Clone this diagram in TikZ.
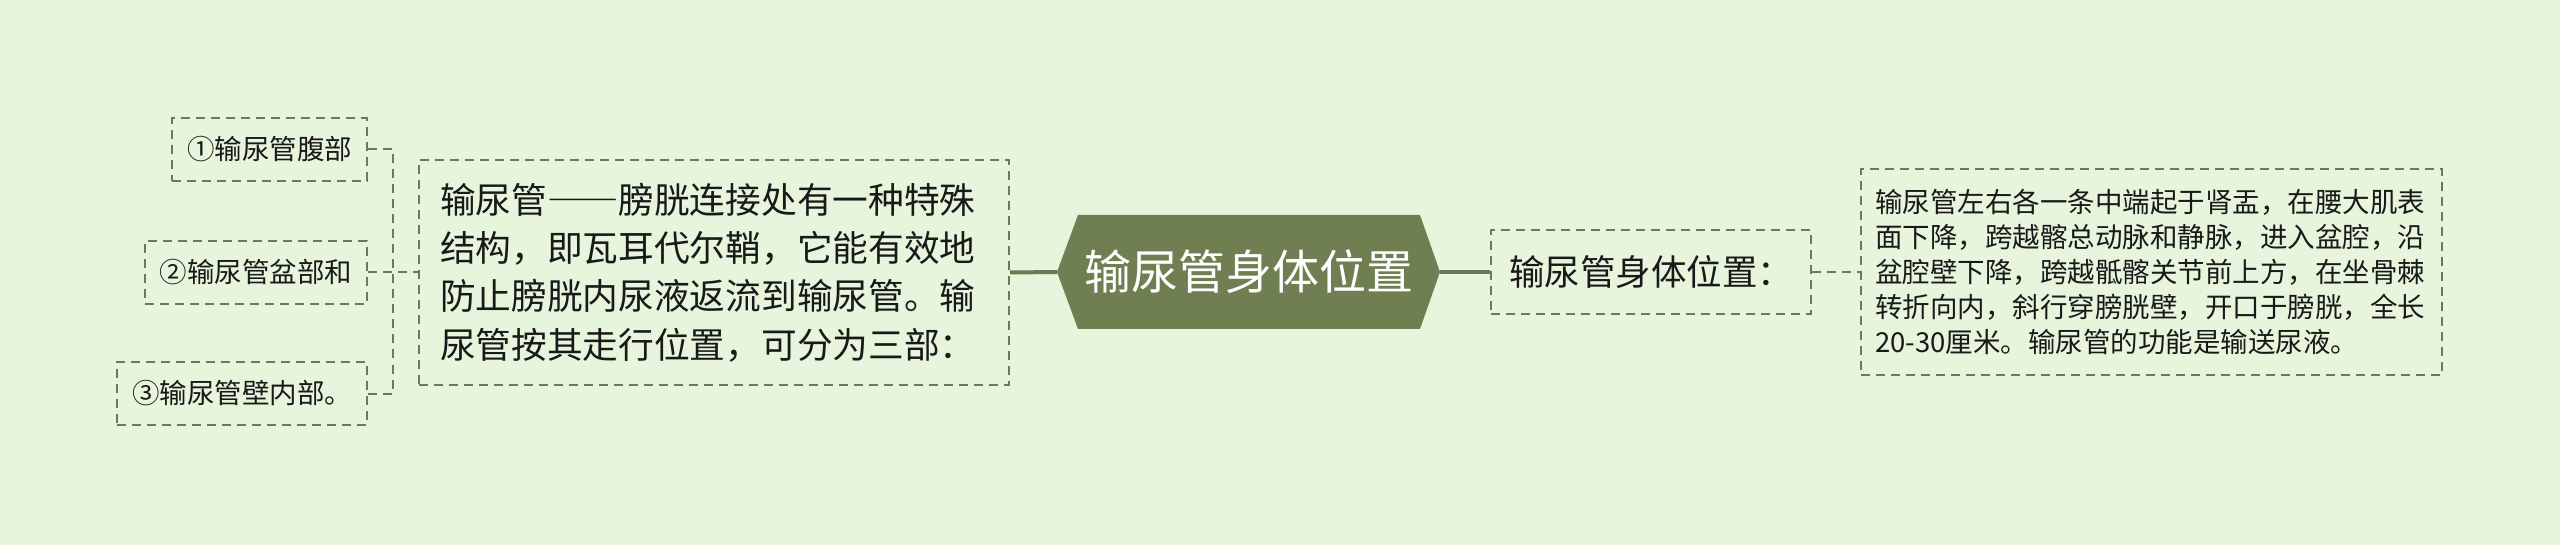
\documentclass[tikz,border=0pt]{standalone}
\usepackage{fontspec}
\newfontfamily\cjk{Noto Sans CJK SC}
\definecolor{bgc}{RGB}{231,245,220}
\definecolor{linec}{RGB}{107,122,82}
\definecolor{rootc}{RGB}{111,127,82}
\definecolor{txtc}{RGB}{25,25,25}
\tikzset{
  box/.style={draw=linec, line width=2pt, dash pattern=on 9pt off 6pt, text=txtc, inner ysep=0pt, align=left},
  leaf/.style={box, font=\cjk\fontsize{27.5}{35}\selectfont, inner xsep=15pt, minimum height=63pt},
  dconn/.style={draw=linec, line width=2pt, dash pattern=on 9pt off 6pt},
  sconn/.style={draw=linec, line width=4pt},
  rootnode/.style={minimum width=383pt, minimum height=114pt, inner sep=0pt, text=white,
    font=\cjk\fontsize{47}{50}\selectfont,
    path picture={\fill[rootc] (path picture bounding box.west)
      -- ([xshift=21pt]path picture bounding box.north west)
      -- ([xshift=-20pt]path picture bounding box.north east)
      -- (path picture bounding box.east)
      -- ([xshift=-20pt]path picture bounding box.south east)
      -- ([xshift=21pt]path picture bounding box.south west) -- cycle;}}
}
\begin{document}
\begin{tikzpicture}[x=1pt,y=-1pt]
\fill[bgc] (0,0) rectangle (2560,545);
\useasboundingbox (0,0) rectangle (2560,545);

\node[leaf, text width=165pt, anchor=east] (n1) at (368,149.5) {①输尿管腹部};
\node[leaf, text width=193pt, inner xsep=14.5pt, anchor=east] (n2) at (368,272.5) {②输尿管盆部和};
\node[leaf, text width=220pt, anchor=east] (n3) at (368,393.5) {③输尿管壁内部。};

\node[box, font=\cjk\fontsize{35.7}{48.3}\selectfont, text width=548pt, inner xsep=21pt, minimum height=225pt, anchor=west] (big) at (418,272.5)
  {输尿管{\addfontfeature{RawFeature=+fwid}——}膀胱连接处有一种特殊\\结构，即瓦耳代尔鞘，它能有效地\\防止膀胱内尿液返流到输尿管。输\\尿管按其走行位置，可分为三部：};

\node[rootnode] (root) at (1248.5,272) {输尿管身体位置};

\node[box, font=\cjk\fontsize{35.5}{40}\selectfont, minimum width=320pt, minimum height=84pt, inner xsep=0pt, anchor=west] (mid) at (1490,272) {输尿管身体位置：};

\node[box, font=\cjk\fontsize{27.5}{35}\selectfont, text width=553pt, inner xsep=14pt, minimum height=206pt, anchor=west] (rt) at (1860,272)
  {输尿管左右各一条中端起于肾盂，在腰大肌表\\面下降，跨越髂总动脉和静脉，进入盆腔，沿\\盆腔壁下降，跨越骶髂关节前上方，在坐骨棘\\转折向内，斜行穿膀胱壁，开口于膀胱，全长\\20-30厘米。输尿管的功能是输送尿液。};

\coordinate (jx) at (393,272.5);
\draw[dconn] (n1.east) -| (jx) |- (n3.east);
\draw[dconn] (n2.east) -- (big.west);
\draw[sconn] (big.east) -- (root.west);
\draw[sconn] (root.east) -- (mid.west);
\draw[dconn] (mid.east) -- (rt.west);
\end{tikzpicture}
\end{document}
